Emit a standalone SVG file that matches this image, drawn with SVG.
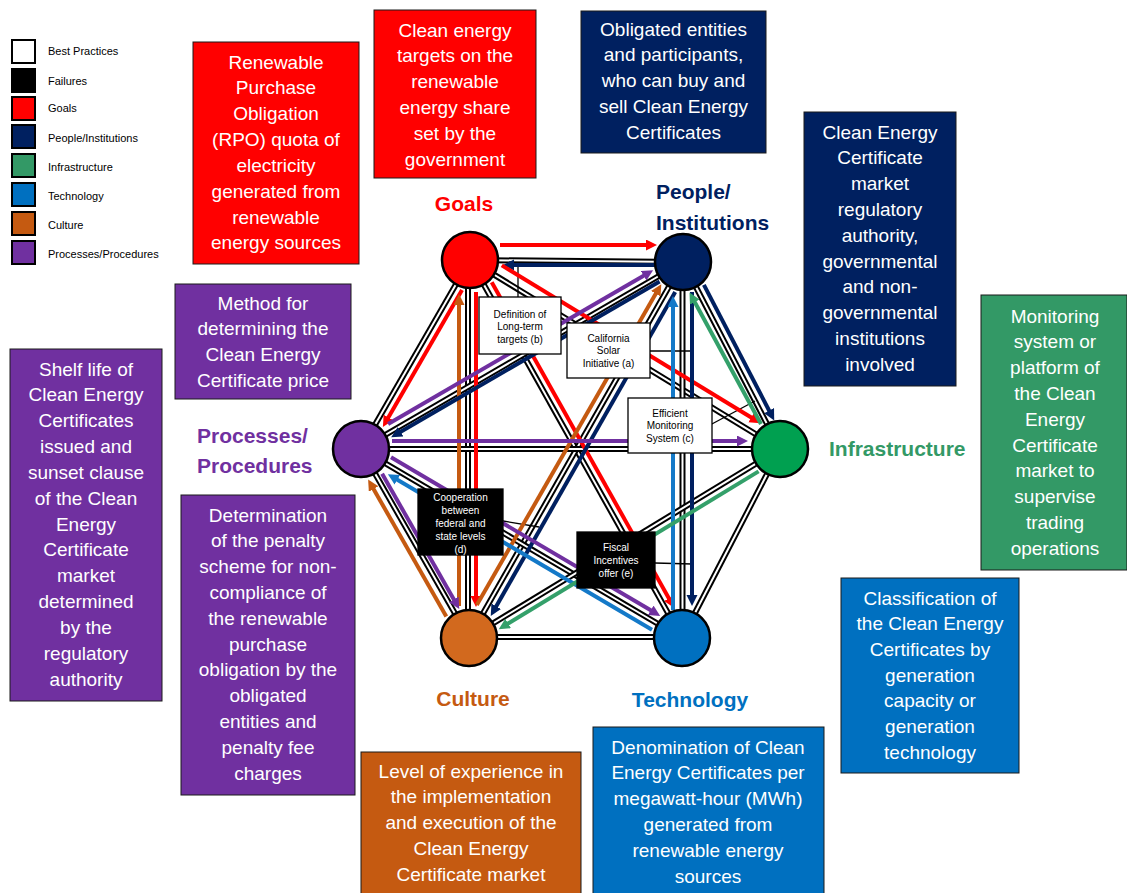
<svg xmlns="http://www.w3.org/2000/svg" width="1127" height="893" viewBox="0 0 1127 893">
<style>
.bg{fill:#ffffff}
.box{stroke:#1a1a1a;stroke-width:1}
.bt{font-family:"Liberation Sans",Arial,sans-serif;font-size:19px;fill:#ffffff;text-anchor:middle}
.lbl{font-family:"Liberation Sans",Arial,sans-serif;font-size:21px;font-weight:bold}
.leg{font-family:"Liberation Sans",Arial,sans-serif;font-size:11px;fill:#000}
.legsq{stroke:#000;stroke-width:2}
.eo{stroke:#000;stroke-width:6;fill:none}
.ei{stroke:#fff;stroke-width:2;fill:none}
.ar{stroke-width:4;fill:none}
.node{stroke:#000;stroke-width:2.5}
.cl{stroke:#000;stroke-width:1.3;fill:none}
.sb{stroke:#000;stroke-width:1.3}
.st{font-family:"Liberation Sans",Arial,sans-serif;font-size:10px;text-anchor:middle}
</style>
<defs>
<marker id="m-red" markerUnits="userSpaceOnUse" markerWidth="14" markerHeight="14" refX="1" refY="5.5" orient="auto"><path d="M0,0 L11,5.5 L0,11 z" fill="#ff0000"/></marker>
<marker id="m-navy" markerUnits="userSpaceOnUse" markerWidth="14" markerHeight="14" refX="1" refY="5.5" orient="auto"><path d="M0,0 L11,5.5 L0,11 z" fill="#002060"/></marker>
<marker id="m-green" markerUnits="userSpaceOnUse" markerWidth="14" markerHeight="14" refX="1" refY="5.5" orient="auto"><path d="M0,0 L11,5.5 L0,11 z" fill="#34a06a"/></marker>
<marker id="m-blue" markerUnits="userSpaceOnUse" markerWidth="14" markerHeight="14" refX="1" refY="5.5" orient="auto"><path d="M0,0 L11,5.5 L0,11 z" fill="#1479c8"/></marker>
<marker id="m-orange" markerUnits="userSpaceOnUse" markerWidth="14" markerHeight="14" refX="1" refY="5.5" orient="auto"><path d="M0,0 L11,5.5 L0,11 z" fill="#c55a11"/></marker>
<marker id="m-purple" markerUnits="userSpaceOnUse" markerWidth="14" markerHeight="14" refX="1" refY="5.5" orient="auto"><path d="M0,0 L11,5.5 L0,11 z" fill="#7030a0"/></marker>
</defs>
<rect class="bg" x="0" y="0" width="1127" height="893"/>

<g id="legend">
<rect class="legsq" x="12" y="40" width="23" height="23" fill="#ffffff"/>
<rect class="legsq" x="12" y="69" width="23" height="23" fill="#000000"/>
<rect class="legsq" x="12" y="97" width="23" height="23" fill="#ff0000"/>
<rect class="legsq" x="12" y="125" width="23" height="23" fill="#002060"/>
<rect class="legsq" x="12" y="154" width="23" height="23" fill="#339966"/>
<rect class="legsq" x="12" y="183" width="23" height="23" fill="#0070c0"/>
<rect class="legsq" x="12" y="212" width="23" height="23" fill="#c55a11"/>
<rect class="legsq" x="12" y="241" width="23" height="23" fill="#7030a0"/>
<text class="leg" x="48" y="55">Best Practices</text>
<text class="leg" x="48" y="85">Failures</text>
<text class="leg" x="48" y="112">Goals</text>
<text class="leg" x="48" y="142">People/Institutions</text>
<text class="leg" x="48" y="171">Infrastructure</text>
<text class="leg" x="48" y="200">Technology</text>
<text class="leg" x="48" y="229">Culture</text>
<text class="leg" x="48" y="258">Processes/Procedures</text>
</g>

<g id="connectors">
<g id="edges">
<line class="eo" x1="470" y1="260" x2="683" y2="262"/><line class="ei" x1="470" y1="260" x2="683" y2="262"/>
<line class="eo" x1="470" y1="260" x2="361" y2="449"/><line class="ei" x1="470" y1="260" x2="361" y2="449"/>
<line class="eo" x1="468" y1="260" x2="468" y2="638"/><line class="ei" x1="468" y1="260" x2="468" y2="638"/>
<line class="eo" x1="470" y1="260" x2="682" y2="638"/><line class="ei" x1="470" y1="260" x2="682" y2="638"/>
<line class="eo" x1="470" y1="260" x2="780" y2="449"/><line class="ei" x1="470" y1="260" x2="780" y2="449"/>
<line class="eo" x1="683" y1="262" x2="361" y2="449"/><line class="ei" x1="683" y1="262" x2="361" y2="449"/>
<line class="eo" x1="683" y1="262" x2="469" y2="638"/><line class="ei" x1="683" y1="262" x2="469" y2="638"/>
<line class="eo" x1="682.5" y1="262" x2="682.5" y2="638"/><line class="ei" x1="682.5" y1="262" x2="682.5" y2="638"/>
<line class="eo" x1="683" y1="262" x2="780" y2="449"/><line class="ei" x1="683" y1="262" x2="780" y2="449"/>
<line class="eo" x1="361" y1="449" x2="780" y2="449"/><line class="ei" x1="361" y1="449" x2="780" y2="449"/>
<line class="eo" x1="361" y1="449" x2="469" y2="638"/><line class="ei" x1="361" y1="449" x2="469" y2="638"/>
<line class="eo" x1="361" y1="449" x2="682" y2="638"/><line class="ei" x1="361" y1="449" x2="682" y2="638"/>
<line class="eo" x1="780" y1="449" x2="469" y2="638"/><line class="ei" x1="780" y1="449" x2="469" y2="638"/>
<line class="eo" x1="780" y1="449" x2="682" y2="638"/><line class="ei" x1="780" y1="449" x2="682" y2="638"/>
<line class="eo" x1="469" y1="637" x2="682" y2="637"/><line class="ei" x1="469" y1="637" x2="682" y2="637"/>
</g>
<g id="callout-lines">
<line class="cl" x1="518" y1="297" x2="518" y2="262"/>
<line class="cl" x1="650" y1="351" x2="693" y2="351"/>
<line class="cl" x1="710" y1="425" x2="755" y2="401"/>
<line class="cl" x1="503" y1="521" x2="539" y2="527"/>
<line class="cl" x1="655" y1="563" x2="692" y2="564"/>
</g>
<g id="arrows">
<line class="ar" stroke="#ff0000" marker-end="url(#m-red)" x1="500" y1="245" x2="647" y2="245"/>
<line class="ar" stroke="#002060" marker-end="url(#m-navy)" x1="655" y1="265" x2="513" y2="265"/>
<line class="ar" stroke="#ff0000" marker-end="url(#m-red)" x1="462" y1="290" x2="387.9" y2="418.3"/>
<line class="ar" stroke="#c55a11" marker-end="url(#m-orange)" x1="459" y1="606" x2="459" y2="304"/>
<line class="ar" stroke="#ff0000" marker-end="url(#m-red)" x1="476" y1="292" x2="476" y2="597"/>
<line class="ar" stroke="#ff0000" marker-end="url(#m-red)" x1="491.7" y1="282.3" x2="669.4" y2="599.2"/>
<line class="ar" stroke="#ff0000" marker-end="url(#m-red)" x1="501.8" y1="265.4" x2="752.1" y2="418"/>
<line class="ar" stroke="#7030a0" marker-end="url(#m-purple)" x1="388.1" y1="424" x2="644.5" y2="275.2"/>
<line class="ar" stroke="#002060" marker-end="url(#m-navy)" x1="659.6" y1="281.4" x2="399.8" y2="432.2"/>
<line class="ar" stroke="#c55a11" marker-end="url(#m-orange)" x1="476.8" y1="605" x2="656.3" y2="292.8"/>
<line class="ar" stroke="#002060" marker-end="url(#m-navy)" x1="675.2" y1="292.1" x2="495.7" y2="607.2"/>
<line class="ar" stroke="#1479c8" marker-end="url(#m-blue)" x1="673" y1="610" x2="673" y2="306"/>
<line class="ar" stroke="#002060" marker-end="url(#m-navy)" x1="692" y1="292" x2="692" y2="596"/>
<line class="ar" stroke="#34a06a" marker-end="url(#m-green)" x1="761" y1="424" x2="694.3" y2="301.2"/>
<line class="ar" stroke="#002060" marker-end="url(#m-navy)" x1="703.9" y1="284.9" x2="769.6" y2="411.5"/>
<line class="ar" stroke="#7030a0" marker-end="url(#m-purple)" x1="392" y1="441" x2="738" y2="441"/>
<line class="ar" stroke="#c55a11" marker-end="url(#m-orange)" x1="446.3" y1="616.5" x2="373.1" y2="488.2"/>
<line class="ar" stroke="#7030a0" marker-end="url(#m-purple)" x1="382.1" y1="473.8" x2="454.3" y2="600.3"/>
<line class="ar" stroke="#7030a0" marker-end="url(#m-purple)" x1="391" y1="457.3" x2="651.6" y2="610.8"/>
<line class="ar" stroke="#1479c8" marker-end="url(#m-blue)" x1="652" y1="629.7" x2="396.5" y2="479.3"/>
<line class="ar" stroke="#34a06a" marker-end="url(#m-green)" x1="758.6" y1="471.4" x2="507.3" y2="624"/>
</g>
</g>

<g id="node-goals">
<circle class="node" cx="470" cy="260" r="28" fill="#ff0000"/>
<text class="lbl" x="464" y="210.5" fill="#ff0000" text-anchor="middle">Goals</text>
</g>
<g id="node-people">
<circle class="node" cx="683" cy="262" r="28" fill="#002060"/>
<text class="lbl" x="656" y="198.5" fill="#002060">People/</text>
<text class="lbl" x="656" y="229.5" fill="#002060">Institutions</text>
</g>
<g id="node-infrastructure">
<circle class="node" cx="780" cy="449" r="28" fill="#00a050"/>
<text class="lbl" x="829" y="455.5" fill="#339966">Infrastructure</text>
</g>
<g id="node-technology">
<circle class="node" cx="682" cy="638" r="28" fill="#0070c0"/>
<text class="lbl" x="690" y="706.5" fill="#0070c0" text-anchor="middle">Technology</text>
</g>
<g id="node-culture">
<circle class="node" cx="469" cy="638" r="28" fill="#d2691e"/>
<text class="lbl" x="473" y="705.5" fill="#c55a11" text-anchor="middle">Culture</text>
</g>
<g id="node-processes">
<circle class="node" cx="361" cy="449" r="28" fill="#7030a0"/>
<text class="lbl" x="197" y="442.5" fill="#7030a0">Processes/</text>
<text class="lbl" x="197" y="472.5" fill="#7030a0">Procedures</text>
</g>

<g id="callout-b">
<rect class="sb" x="479" y="297" width="82" height="57" fill="#ffffff"/>
<text class="st" fill="#000"><tspan x="520" y="317.5">Definition of</tspan><tspan x="520" y="330">Long-term</tspan><tspan x="520" y="342.5">targets (b)</tspan></text>
</g>
<g id="callout-a">
<rect class="sb" x="567" y="323" width="83" height="55" fill="#ffffff"/>
<text class="st" fill="#000"><tspan x="608.5" y="341.5">California</tspan><tspan x="608.5" y="354">Solar</tspan><tspan x="608.5" y="366.5">Initiative (a)</tspan></text>
</g>
<g id="callout-c">
<rect class="sb" x="628" y="398" width="84" height="55" fill="#ffffff"/>
<text class="st" fill="#000"><tspan x="670" y="416.5">Efficient</tspan><tspan x="670" y="429">Monitoring</tspan><tspan x="670" y="441.5">System (c)</tspan></text>
</g>
<g id="callout-d">
<rect class="sb" x="418" y="489" width="85" height="66" fill="#000000"/>
<text class="st" fill="#fff"><tspan x="460.5" y="500.5">Cooperation</tspan><tspan x="460.5" y="513.5">between</tspan><tspan x="460.5" y="526.5">federal and</tspan><tspan x="460.5" y="539.5">state levels</tspan><tspan x="460.5" y="552.5">(d)</tspan></text>
</g>
<g id="callout-e">
<rect class="sb" x="577" y="532" width="78" height="56" fill="#000000"/>
<text class="st" fill="#fff"><tspan x="616" y="550.5">Fiscal</tspan><tspan x="616" y="563.5">Incentives</tspan><tspan x="616" y="576.5">offer (e)</tspan></text>
</g>

<g id="box-rpo">
<rect class="box" x="193" y="42" width="166" height="222" fill="#ff0000"/>
<text class="bt"><tspan x="276" y="68.5">Renewable</tspan><tspan x="276" y="94.4">Purchase</tspan><tspan x="276" y="120.2">Obligation</tspan><tspan x="276" y="146">(RPO) quota of</tspan><tspan x="276" y="171.9">electricity</tspan><tspan x="276" y="197.7">generated from</tspan><tspan x="276" y="223.6">renewable</tspan><tspan x="276" y="249.4">energy sources</tspan></text>
</g>
<g id="box-targets">
<rect class="box" x="374" y="10" width="162" height="168" fill="#ff0000"/>
<text class="bt"><tspan x="455" y="36.5">Clean energy</tspan><tspan x="455" y="62.3">targets on the</tspan><tspan x="455" y="88.1">renewable</tspan><tspan x="455" y="113.9">energy share</tspan><tspan x="455" y="139.7">set by the</tspan><tspan x="455" y="165.5">government</tspan></text>
</g>
<g id="box-obligated">
<rect class="box" x="581" y="11" width="185" height="142" fill="#002060"/>
<text class="bt"><tspan x="673.5" y="35.5">Obligated entities</tspan><tspan x="673.5" y="61.3">and participants,</tspan><tspan x="673.5" y="87.1">who can buy and</tspan><tspan x="673.5" y="112.9">sell Clean Energy</tspan><tspan x="673.5" y="138.7">Certificates</tspan></text>
</g>
<g id="box-regulatory">
<rect class="box" x="804" y="112" width="152" height="274" fill="#002060"/>
<text class="bt"><tspan x="880" y="138.5">Clean Energy</tspan><tspan x="880" y="164.3">Certificate</tspan><tspan x="880" y="190.1">market</tspan><tspan x="880" y="215.9">regulatory</tspan><tspan x="880" y="241.7">authority,</tspan><tspan x="880" y="267.5">governmental</tspan><tspan x="880" y="293.3">and non-</tspan><tspan x="880" y="319.1">governmental</tspan><tspan x="880" y="344.9">institutions</tspan><tspan x="880" y="370.7">involved</tspan></text>
</g>
<g id="box-monitoring">
<rect class="box" x="981" y="295" width="146" height="275" fill="#339966"/>
<text class="bt"><tspan x="1055" y="322.5">Monitoring</tspan><tspan x="1055" y="348.3">system or</tspan><tspan x="1055" y="374.1">platform of</tspan><tspan x="1055" y="399.9">the Clean</tspan><tspan x="1055" y="425.7">Energy</tspan><tspan x="1055" y="451.5">Certificate</tspan><tspan x="1055" y="477.3">market to</tspan><tspan x="1055" y="503.1">supervise</tspan><tspan x="1055" y="528.9">trading</tspan><tspan x="1055" y="554.7">operations</tspan></text>
</g>
<g id="box-classification">
<rect class="box" x="841" y="578" width="178" height="195" fill="#0070c0"/>
<text class="bt"><tspan x="930" y="604.5">Classification of</tspan><tspan x="930" y="630.2">the Clean Energy</tspan><tspan x="930" y="655.9">Certificates by</tspan><tspan x="930" y="681.6">generation</tspan><tspan x="930" y="707.3">capacity or</tspan><tspan x="930" y="733">generation</tspan><tspan x="930" y="758.7">technology</tspan></text>
</g>
<g id="box-denomination">
<rect class="box" x="593" y="727" width="231" height="170" fill="#0070c0"/>
<text class="bt"><tspan x="708" y="753.5">Denomination of Clean</tspan><tspan x="708" y="779.3">Energy Certificates per</tspan><tspan x="708" y="805.1">megawatt-hour (MWh)</tspan><tspan x="708" y="830.9">generated from</tspan><tspan x="708" y="856.7">renewable energy</tspan><tspan x="708" y="882.5">sources</tspan></text>
</g>
<g id="box-experience">
<rect class="box" x="361" y="752" width="220" height="145" fill="#c55a11"/>
<text class="bt"><tspan x="471" y="777.5">Level of experience in</tspan><tspan x="471" y="803.3">the implementation</tspan><tspan x="471" y="829.1">and execution of the</tspan><tspan x="471" y="854.9">Clean Energy</tspan><tspan x="471" y="880.7">Certificate market</tspan></text>
</g>
<g id="box-penalty">
<rect class="box" x="181" y="495" width="174" height="300" fill="#7030a0"/>
<text class="bt"><tspan x="268" y="521.5">Determination</tspan><tspan x="268" y="547.3">of the penalty</tspan><tspan x="268" y="573.1">scheme for non-</tspan><tspan x="268" y="598.9">compliance of</tspan><tspan x="268" y="624.7">the renewable</tspan><tspan x="268" y="650.5">purchase</tspan><tspan x="268" y="676.3">obligation by the</tspan><tspan x="268" y="702.1">obligated</tspan><tspan x="268" y="727.9">entities and</tspan><tspan x="268" y="753.7">penalty fee</tspan><tspan x="268" y="779.5">charges</tspan></text>
</g>
<g id="box-shelf-life">
<rect class="box" x="10" y="349" width="152" height="352" fill="#7030a0"/>
<text class="bt"><tspan x="86" y="375.5">Shelf life of</tspan><tspan x="86" y="401.3">Clean Energy</tspan><tspan x="86" y="427.2">Certificates</tspan><tspan x="86" y="453">issued and</tspan><tspan x="86" y="478.8">sunset clause</tspan><tspan x="86" y="504.7">of the Clean</tspan><tspan x="86" y="530.5">Energy</tspan><tspan x="86" y="556.3">Certificate</tspan><tspan x="86" y="582.1">market</tspan><tspan x="86" y="608">determined</tspan><tspan x="86" y="633.8">by the</tspan><tspan x="86" y="659.6">regulatory</tspan><tspan x="86" y="685.5">authority</tspan></text>
</g>
<g id="box-method">
<rect class="box" x="175" y="284" width="176" height="115" fill="#7030a0"/>
<text class="bt"><tspan x="263" y="309.5">Method for</tspan><tspan x="263" y="335.3">determining the</tspan><tspan x="263" y="361.1">Clean Energy</tspan><tspan x="263" y="386.9">Certificate price</tspan></text>
</g>
</svg>
